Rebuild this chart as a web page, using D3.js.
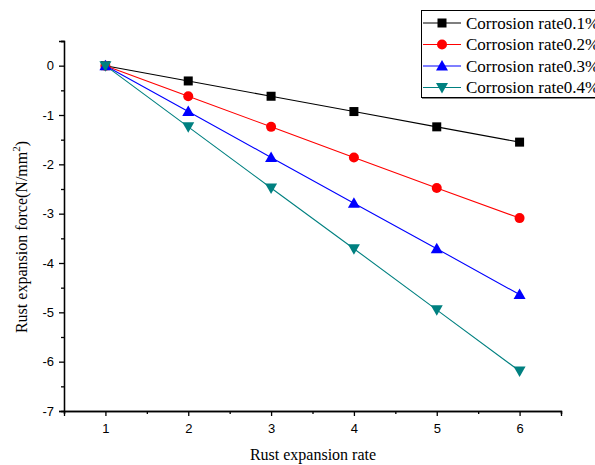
<!DOCTYPE html>
<html><head><meta charset="utf-8">
<script src="https://cdn.jsdelivr.net/npm/d3@7"></script>
<style>body{margin:0;background:#fff;} svg{display:block;}</style>
</head><body>
<svg id="c" width="595" height="465"></svg>
<script>
const xValues = [1, 2, 3, 4, 5, 6];
const seriesNames = ["Corrosion rate0.1%", "Corrosion rate0.2%", "Corrosion rate0.3%", "Corrosion rate0.4%"];
const s1 = [0, -0.31, -0.62, -0.93, -1.24, -1.55];
const s2 = [0, -0.62, -1.24, -1.86, -2.48, -3.09];
const s3 = [0, -0.93, -1.86, -2.79, -3.71, -4.64];
const s4 = [0, -1.24, -2.48, -3.71, -4.95, -6.19];
const xTicks = [1, 2, 3, 4, 5, 6];
const yTicks = [0, -1, -2, -3, -4, -5, -6, -7];
const colors = ["#000000", "#ff0000", "#0000ff", "#008080"];
const shapes = ["square", "circle", "up", "down"];
const allSeries = [s1, s2, s3, s4];

const svg = d3.select("#c");
const x = d3.scaleLinear().domain([0.5, 6.5]).range([64, 561]);
const y = d3.scaleLinear().domain([-7, 0.5]).range([411, 41]);

const fmt = d => String(d);
const xAxis = d3.axisBottom(x).tickValues(xTicks).tickSize(5).tickFormat(fmt);
const xMinor = d3.axisBottom(x).tickValues([0.5,1.5,2.5,3.5,4.5,5.5,6.5]).tickSize(3).tickFormat("");
const yAxis = d3.axisLeft(y).tickValues(yTicks).tickSize(5).tickFormat(fmt);
const yMinor = d3.axisLeft(y).tickValues([0.5,-0.5,-1.5,-2.5,-3.5,-4.5,-5.5,-6.5]).tickSize(3).tickFormat("");

function styleAxis(g){
  g.selectAll("path").attr("stroke","#000").attr("stroke-width",1.3);
  g.selectAll("line").attr("stroke","#000").attr("stroke-width",1.3);
  g.selectAll("text").attr("font-family","Liberation Sans, Arial, sans-serif").attr("font-size",13).attr("fill","#000");
}
const gx = svg.append("g").attr("transform","translate(0,411)").call(xAxis).call(styleAxis);
gx.selectAll("text").attr("y",13);
svg.append("g").attr("transform","translate(0,411)").call(xMinor).call(styleAxis);
const gy = svg.append("g").attr("transform","translate(64,0)").call(yAxis).call(styleAxis);
gy.selectAll("text").attr("x",-10);
svg.append("g").attr("transform","translate(64,0)").call(yMinor).call(styleAxis);

// axis titles
svg.append("text").attr("x",313).attr("y",460).attr("text-anchor","middle")
  .attr("font-family","Liberation Serif, Times New Roman, serif").attr("font-size",16).text("Rust expansion rate");
const yt = svg.append("text").attr("transform","translate(27,237) rotate(-90)").attr("text-anchor","middle")
  .attr("font-family","Liberation Serif, Times New Roman, serif").attr("font-size",16);
yt.append("tspan").text("Rust expansion force(N/mm");
yt.append("tspan").attr("dy",-7).attr("font-size",11).text("2");
yt.append("tspan").attr("dy",7).text(")");

function marker(g, shape, cx, cy, color){
  if(shape==="square"){
    g.append("rect").attr("x",cx-4.5).attr("y",cy-4.5).attr("width",9).attr("height",9).attr("fill",color);
  } else if(shape==="circle"){
    g.append("circle").attr("cx",cx).attr("cy",cy).attr("r",5).attr("fill",color);
  } else if(shape==="up"){
    g.append("path").attr("d",`M${cx},${cy-6}L${cx+6},${cy+4.5}L${cx-6},${cy+4.5}Z`).attr("fill",color);
  } else {
    g.append("path").attr("d",`M${cx},${cy+6}L${cx+6},${cy-4.5}L${cx-6},${cy-4.5}Z`).attr("fill",color);
  }
}

const line = d3.line().x((d,i)=>x(xValues[i])).y(d=>y(d));
allSeries.forEach((s,k)=>{
  svg.append("path").attr("d",line(s)).attr("fill","none").attr("stroke",colors[k]).attr("stroke-width",1.1);
});
allSeries.forEach((s,k)=>{
  const g = svg.append("g");
  s.forEach((v,i)=>marker(g, shapes[k], x(xValues[i]), y(v), colors[k]));
});

// legend
const lg = svg.append("g");
lg.append("rect").attr("x",421.5).attr("y",10.5).attr("width",180).attr("height",87)
  .attr("fill","#fff").attr("stroke","#000").attr("stroke-width",1);
lg.append("line").attr("x1",422).attr("x2",600).attr("y1",98.5).attr("y2",98.5).attr("stroke","#888").attr("stroke-width",1.2);
seriesNames.forEach((n,k)=>{
  const yy = 23 + k*21.5;
  lg.append("line").attr("x1",423).attr("x2",461).attr("y1",yy).attr("y2",yy).attr("stroke",colors[k]).attr("stroke-width",1.1);
  marker(lg, shapes[k], 442, yy, colors[k]);
  lg.append("text").attr("x",466).attr("y",yy+5.5).attr("font-family","Liberation Serif, Times New Roman, serif")
    .attr("font-size",17).text(n);
});
</script>
</body></html>
